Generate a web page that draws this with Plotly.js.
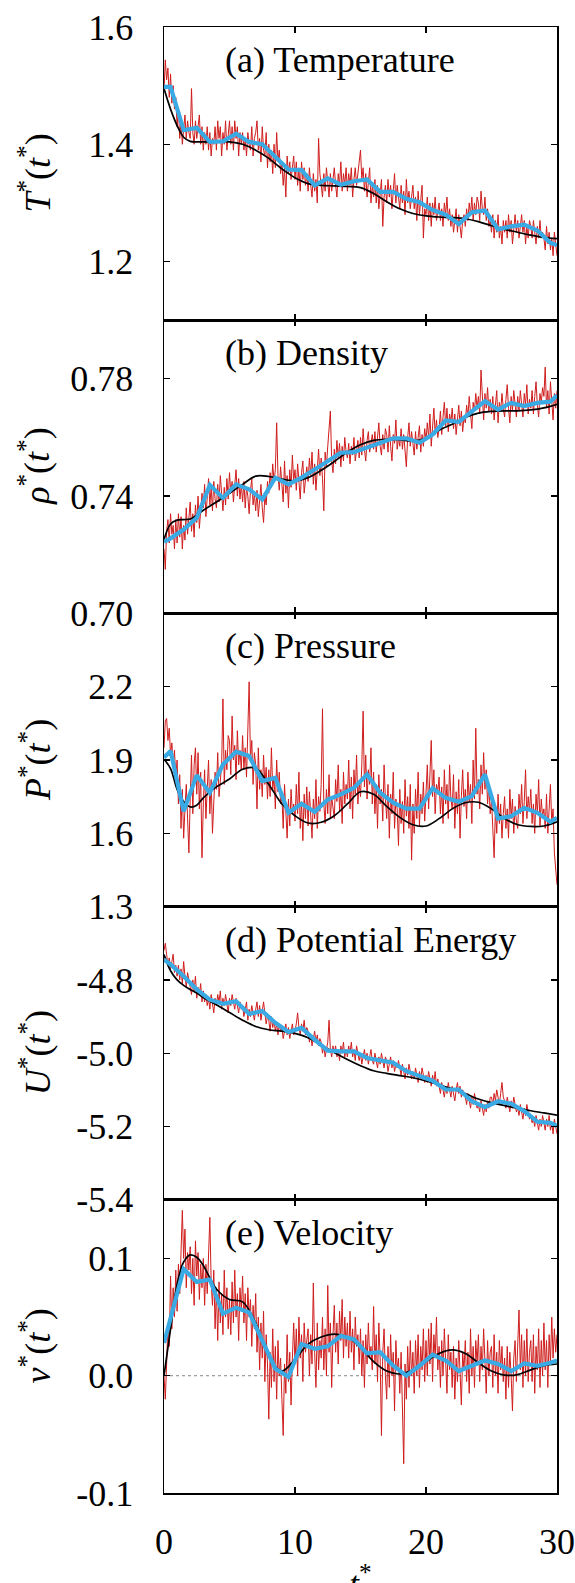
<!DOCTYPE html>
<html>
<head>
<meta charset="utf-8">
<script src="https://cdn.plot.ly/plotly-3.0.1.min.js"></script>
<style>html,body{margin:0;padding:0;background:#fff;}</style>
</head>
<body>
<div id="chart" style="width:575px;height:1583px;"></div>
<script>
// ---------- data ----------
const panelLabels = ['(a) Temperature', '(b) Density', '(c) Pressure', '(d) Potential Energy', '(e) Velocity'];
const yTitles = ['<i>T</i><sup>*</sup>(<i>t</i><sup>*</sup>)', '<i>ρ</i><sup>*</sup>(<i>t</i><sup>*</sup>)', '<i>P</i><sup>*</sup>(<i>t</i><sup>*</sup>)', '<i>U</i><sup>*</sup>(<i>t</i><sup>*</sup>)', '<i>v</i><sup>*</sup>(<i>t</i><sup>*</sup>)'];
const xTitle = '<i>t</i><sup>*</sup>';

const xTickVals = [0, 10, 20, 30];
const xTickText = ['0', '10', '20', '30'];

const yRanges = [[1.1, 1.6], [0.70, 0.80], [1.3, 2.5], [-5.4, -4.6], [-0.1, 0.15]];
const yTickVals = [[1.2, 1.4, 1.6], [0.70, 0.74, 0.78], [1.3, 1.6, 1.9, 2.2], [-5.4, -5.2, -5.0, -4.8], [-0.1, 0.0, 0.1]];
const yTickText = [['1.2', '1.4', '1.6'], ['0.70', '0.74', '0.78'], ['1.3', '1.6', '1.9', '2.2'], ['-5.4', '-5.2', '-5.0', '-4.8'], ['-0.1', '0.0', '0.1']];

// averaged (blue) series
const tBlue = [0, 0.5, 1.5, 2.5, 3.5, 4.5, 5.5, 6.5, 7.5, 8.5, 9.5, 10.5, 11.5, 12.5, 13.5, 14.5, 15.5, 16.5, 17.5, 18.5, 19.5, 20.5, 21.5, 22.5, 23.5, 24.5, 25.5, 26.5, 27.5, 28.5, 29.5, 30];
const blueT = [1.498, 1.498, 1.424, 1.428, 1.404, 1.405, 1.418, 1.404, 1.400, 1.378, 1.357, 1.356, 1.330, 1.342, 1.331, 1.337, 1.340, 1.319, 1.319, 1.307, 1.301, 1.288, 1.280, 1.264, 1.284, 1.287, 1.255, 1.260, 1.263, 1.253, 1.232, 1.228];
const blueRho = [0.7244, 0.7256, 0.7286, 0.7326, 0.7438, 0.7394, 0.7440, 0.7423, 0.7389, 0.7463, 0.7440, 0.7463, 0.7491, 0.7519, 0.7548, 0.7550, 0.7565, 0.7582, 0.7597, 0.7597, 0.7582, 0.7610, 0.7658, 0.7653, 0.7690, 0.7724, 0.7695, 0.7718, 0.7707, 0.7718, 0.7722, 0.7744];
const blueP = [1.910, 1.937, 1.690, 1.838, 1.766, 1.882, 1.934, 1.916, 1.814, 1.827, 1.684, 1.721, 1.688, 1.738, 1.759, 1.786, 1.841, 1.766, 1.725, 1.701, 1.701, 1.784, 1.745, 1.729, 1.752, 1.841, 1.660, 1.670, 1.704, 1.684, 1.647, 1.663];
const blueU = [-4.745, -4.758, -4.790, -4.826, -4.854, -4.865, -4.858, -4.893, -4.885, -4.917, -4.942, -4.931, -4.963, -4.993, -4.995, -4.995, -5.013, -5.020, -5.026, -5.049, -5.063, -5.075, -5.099, -5.099, -5.131, -5.147, -5.131, -5.138, -5.158, -5.187, -5.190, -5.199];
const blueV = [0.028, 0.050, 0.091, 0.080, 0.082, 0.053, 0.058, 0.054, 0.030, 0.006, -0.001, 0.027, 0.023, 0.025, 0.034, 0.031, 0.019, 0.020, 0.0085, 0.000, 0.0085, 0.018, 0.013, 0.004, 0.0085, 0.013, 0.010, 0.004, 0.0105, 0.0085, 0.011, 0.013];

// smooth (black) series
const tBlack = [0, 0.5, 1, 1.5, 2, 2.5, 3, 4, 5, 6, 7, 8, 9, 10, 11, 12, 13, 14, 15, 16, 17, 18, 19, 20, 21, 22, 23, 24, 25, 26, 27, 28, 29, 30];
const blackT = [1.495, 1.46, 1.432, 1.412, 1.405, 1.404, 1.404, 1.404, 1.404, 1.400, 1.390, 1.376, 1.358, 1.343, 1.333, 1.330, 1.329, 1.328, 1.326, 1.316, 1.302, 1.290, 1.282, 1.278, 1.276, 1.275, 1.273, 1.268, 1.261, 1.255, 1.250, 1.245, 1.241, 1.239];
const blackRho = [0.7252, 0.7305, 0.7318, 0.7320, 0.7322, 0.7335, 0.7352, 0.738, 0.741, 0.744, 0.7468, 0.7467, 0.7458, 0.7452, 0.7463, 0.7488, 0.7518, 0.7550, 0.7575, 0.7590, 0.7594, 0.7592, 0.7588, 0.7598, 0.7625, 0.7645, 0.7668, 0.7683, 0.7689, 0.7691, 0.7691, 0.7694, 0.7701, 0.7713];
const blackP = [1.903, 1.865, 1.78, 1.73, 1.708, 1.715, 1.745, 1.79, 1.822, 1.862, 1.866, 1.80, 1.72, 1.672, 1.642, 1.645, 1.672, 1.720, 1.770, 1.760, 1.710, 1.665, 1.635, 1.630, 1.660, 1.700, 1.725, 1.727, 1.700, 1.660, 1.635, 1.628, 1.630, 1.647];
const blackU = [-4.731, -4.775, -4.800, -4.815, -4.826, -4.836, -4.848, -4.868, -4.889, -4.910, -4.927, -4.936, -4.940, -4.946, -4.958, -4.978, -4.998, -5.017, -5.034, -5.048, -5.055, -5.061, -5.067, -5.076, -5.086, -5.097, -5.110, -5.125, -5.135, -5.143, -5.150, -5.157, -5.163, -5.169];
const blackV = [0, 0.040, 0.078, 0.097, 0.103, 0.101, 0.094, 0.074, 0.065, 0.063, 0.045, 0.016, 0.004, 0.014, 0.027, 0.033, 0.0355, 0.033, 0.024, 0.012, 0.004, 0.0015, 0.005, 0.012, 0.019, 0.022, 0.019, 0.011, 0.004, 0.0005, 0.001, 0.005, 0.0085, 0.010];

// raw (red) series, sampled every 0.1 time units from 0 to 30
const redStep = 0.1;
const redT = [
1.49,1.544,1.51,1.53,1.48,1.52,1.47,1.50,1.46,1.48,
1.43,1.46,1.41,1.44,1.40,1.42,1.45,1.41,1.44,1.42,
1.41,1.495,1.42,1.40,1.44,1.41,1.43,1.45,1.40,1.43,
1.39,1.42,1.40,1.43,1.39,1.42,1.38,1.41,1.40,1.43,
1.39,1.44,1.41,1.43,1.38,1.42,1.40,1.44,1.39,1.42,
1.44,1.40,1.43,1.39,1.44,1.41,1.43,1.38,1.42,1.40,
1.42,1.39,1.41,1.38,1.42,1.40,1.39,1.43,1.38,1.41,
1.42,1.44,1.39,1.41,1.37,1.43,1.39,1.38,1.42,1.36,
1.40,1.37,1.39,1.35,1.40,1.36,1.42,1.37,1.39,1.35,
1.37,1.33,1.36,1.31,1.38,1.35,1.37,1.34,1.36,1.38,
1.34,1.37,1.33,1.36,1.32,1.37,1.34,1.36,1.33,1.35,
1.32,1.36,1.33,1.31,1.35,1.32,1.34,1.30,1.41,1.35,
1.33,1.31,1.35,1.32,1.36,1.33,1.31,1.35,1.32,1.34,
1.36,1.33,1.31,1.35,1.33,1.37,1.32,1.35,1.33,1.36,
1.32,1.35,1.33,1.36,1.31,1.34,1.36,1.33,1.35,1.37,
1.39,1.34,1.36,1.32,1.35,1.31,1.34,1.36,1.30,1.33,
1.31,1.34,1.30,1.33,1.29,1.32,1.34,1.26,1.31,1.33,
1.30,1.34,1.31,1.33,1.29,1.32,1.35,1.30,1.33,1.31,
1.29,1.33,1.30,1.32,1.28,1.34,1.30,1.32,1.29,1.31,
1.33,1.29,1.31,1.27,1.32,1.28,1.30,1.33,1.24,1.29,
1.28,1.31,1.27,1.30,1.26,1.30,1.28,1.31,1.27,1.29,
1.30,1.27,1.29,1.26,1.30,1.28,1.31,1.27,1.29,1.26,
1.28,1.25,1.27,1.29,1.25,1.28,1.26,1.24,1.27,1.28,
1.26,1.29,1.27,1.30,1.28,1.31,1.27,1.30,1.28,1.31,
1.30,1.27,1.32,1.29,1.28,1.31,1.27,1.29,1.26,1.27,
1.25,1.28,1.24,1.27,1.25,1.28,1.24,1.26,1.23,1.27,
1.25,1.27,1.24,1.28,1.25,1.27,1.23,1.26,1.28,1.25,
1.27,1.24,1.26,1.28,1.25,1.27,1.23,1.26,1.24,1.27,
1.26,1.24,1.27,1.25,1.23,1.26,1.24,1.27,1.24,1.25,
1.24,1.22,1.26,1.23,1.25,1.22,1.24,1.21,1.25,1.23,
1.21];
const redRho = [
0.722,0.715,0.728,0.732,0.724,0.734,0.727,0.730,0.722,0.732,
0.724,0.734,0.726,0.733,0.722,0.730,0.725,0.736,0.727,0.732,
0.738,0.728,0.734,0.726,0.737,0.731,0.740,0.729,0.735,0.741,
0.736,0.744,0.733,0.741,0.746,0.737,0.743,0.735,0.745,0.739,
0.736,0.744,0.738,0.747,0.740,0.735,0.743,0.737,0.746,0.739,
0.748,0.741,0.745,0.738,0.744,0.749,0.740,0.746,0.739,0.744,
0.738,0.745,0.736,0.743,0.740,0.734,0.742,0.746,0.737,0.741,
0.735,0.742,0.733,0.739,0.744,0.736,0.731,0.740,0.737,0.745,
0.741,0.748,0.743,0.751,0.745,0.749,0.765,0.747,0.742,0.750,
0.744,0.738,0.752,0.741,0.747,0.736,0.749,0.743,0.754,0.745,
0.749,0.742,0.751,0.745,0.739,0.748,0.752,0.741,0.746,0.750,
0.745,0.753,0.747,0.755,0.744,0.751,0.742,0.750,0.756,0.747,
0.753,0.746,0.735,0.755,0.750,0.757,0.762,0.769,0.752,0.748,
0.756,0.751,0.759,0.753,0.758,0.750,0.757,0.752,0.760,0.755,
0.753,0.758,0.751,0.757,0.754,0.760,0.752,0.756,0.759,0.753,
0.760,0.754,0.763,0.756,0.752,0.759,0.762,0.755,0.758,0.761,
0.756,0.762,0.755,0.760,0.765,0.757,0.754,0.761,0.756,0.763,
0.761,0.755,0.764,0.757,0.752,0.761,0.758,0.766,0.756,0.760,
0.757,0.763,0.756,0.761,0.754,0.750,0.760,0.765,0.757,0.762,
0.758,0.754,0.762,0.756,0.760,0.764,0.755,0.761,0.757,0.763,
0.759,0.765,0.760,0.768,0.757,0.763,0.770,0.761,0.766,0.760,
0.763,0.769,0.761,0.767,0.772,0.764,0.770,0.762,0.768,0.765,
0.770,0.763,0.768,0.761,0.766,0.771,0.764,0.769,0.762,0.767,
0.765,0.771,0.767,0.774,0.768,0.763,0.772,0.769,0.775,0.770,
0.774,0.768,0.783,0.772,0.766,0.775,0.770,0.777,0.769,0.773,
0.768,0.774,0.766,0.771,0.776,0.765,0.772,0.769,0.775,0.770,
0.767,0.773,0.778,0.770,0.765,0.774,0.769,0.776,0.771,0.767,
0.774,0.769,0.776,0.770,0.767,0.775,0.771,0.778,0.768,0.773,
0.770,0.776,0.768,0.774,0.779,0.771,0.767,0.775,0.772,0.777,
0.774,0.784,0.770,0.776,0.768,0.779,0.773,0.766,0.775,0.770,
0.776];
const redP = [
1.95,2.06,2.07,1.98,2.03,1.92,1.97,1.88,1.94,1.83,
1.90,1.72,1.84,1.62,1.78,1.58,1.70,1.80,1.66,1.52,
1.74,1.92,1.68,1.88,1.95,1.76,1.93,1.70,1.85,1.50,
1.72,1.86,1.66,1.79,1.90,1.68,1.82,1.60,1.77,1.85,
1.78,1.93,1.75,1.82,1.88,2.15,1.80,1.94,1.86,2.00,
1.98,1.84,2.08,1.90,1.96,1.82,2.02,1.88,1.94,1.86,
2.00,1.86,1.95,1.83,2.06,2.22,1.90,1.98,1.80,1.93,
1.88,1.70,1.95,1.78,1.86,1.75,1.92,1.80,1.87,1.74,
1.86,1.75,1.95,1.78,1.83,1.70,1.90,1.77,1.85,1.72,
1.75,1.62,1.80,1.66,1.58,1.74,1.63,1.78,1.68,1.72,
1.65,1.80,1.68,1.85,1.62,1.73,1.57,1.76,1.66,1.79,
1.63,1.77,1.68,1.58,1.74,1.66,1.82,1.62,1.75,1.69,
1.80,2.11,1.72,1.64,1.78,1.68,1.84,1.66,1.75,1.70,
1.66,1.82,1.73,1.88,1.69,1.78,1.64,1.85,1.72,1.80,
1.74,1.90,1.70,1.83,1.66,1.86,1.76,1.92,1.72,1.81,
1.75,1.88,2.10,1.79,1.92,1.74,1.86,1.80,1.95,1.72,
1.85,1.68,1.80,1.62,1.84,1.72,1.78,1.65,1.88,1.74,
1.66,1.80,1.58,1.76,1.68,1.85,1.62,1.74,1.70,1.55,
1.78,1.64,1.73,1.60,1.82,1.67,1.75,1.62,1.80,1.49,
1.72,1.60,1.78,1.66,1.85,1.63,1.76,1.68,1.81,1.65,
1.74,1.88,1.70,1.82,1.98,1.75,1.86,1.68,1.80,1.77,
1.83,1.68,1.79,1.64,1.86,1.72,1.80,1.66,1.88,1.74,
1.70,1.84,1.62,1.77,1.68,1.82,1.58,1.75,1.86,1.71,
1.78,1.66,1.85,1.73,1.80,1.64,1.90,1.74,2.03,1.76,
1.82,1.70,1.88,1.76,1.93,1.78,1.86,1.72,1.80,1.68,
1.74,1.62,1.50,1.70,1.60,1.76,1.64,1.72,1.58,1.68,
1.75,1.62,1.70,1.58,1.78,1.66,1.74,1.60,1.71,1.65,
1.62,1.76,1.68,1.80,1.64,1.73,1.86,1.66,1.75,1.69,
1.78,1.64,1.72,1.60,1.76,1.68,1.82,1.63,1.74,1.67,
1.70,1.62,1.76,1.60,1.72,1.80,1.64,1.70,1.52,1.44,
1.39];
const redU = [
-4.72,-4.70,-4.73,-4.76,-4.74,-4.77,-4.75,-4.73,-4.78,-4.76,
-4.79,-4.76,-4.80,-4.77,-4.81,-4.75,-4.79,-4.82,-4.78,-4.80,
-4.81,-4.84,-4.80,-4.83,-4.79,-4.85,-4.82,-4.84,-4.81,-4.86,
-4.83,-4.86,-4.84,-4.87,-4.85,-4.88,-4.84,-4.86,-4.89,-4.85,
-4.87,-4.84,-4.86,-4.83,-4.88,-4.85,-4.87,-4.84,-4.86,-4.89,
-4.85,-4.87,-4.84,-4.86,-4.88,-4.85,-4.87,-4.89,-4.86,-4.88,
-4.87,-4.90,-4.88,-4.86,-4.91,-4.88,-4.90,-4.87,-4.89,-4.91,
-4.88,-4.86,-4.90,-4.87,-4.91,-4.88,-4.86,-4.89,-4.92,-4.90,
-4.91,-4.94,-4.90,-4.93,-4.91,-4.94,-4.92,-4.95,-4.92,-4.94,
-4.93,-4.96,-4.94,-4.92,-4.95,-4.93,-4.96,-4.94,-4.92,-4.95,
-4.94,-4.92,-4.89,-4.93,-4.95,-4.92,-4.94,-4.91,-4.95,-4.93,
-4.94,-4.97,-4.95,-4.98,-4.96,-4.94,-4.97,-4.95,-4.98,-4.96,
-4.97,-5.00,-4.98,-5.01,-4.99,-4.97,-4.91,-4.99,-5.01,-4.98,
-5.00,-4.98,-5.01,-4.99,-5.02,-4.98,-5.00,-4.97,-5.01,-4.99,
-5.01,-4.98,-5.00,-4.97,-5.01,-4.99,-5.02,-4.98,-5.00,-5.02,
-5.00,-5.03,-5.01,-4.99,-5.02,-5.00,-5.03,-5.01,-4.99,-5.02,
-5.03,-5.00,-5.02,-5.04,-5.01,-5.03,-5.00,-5.02,-5.04,-5.01,
-5.02,-5.05,-5.03,-5.01,-5.04,-5.02,-5.05,-5.03,-5.04,-5.02,
-5.04,-5.06,-5.03,-5.05,-5.07,-5.04,-5.06,-5.03,-5.05,-5.07,
-5.05,-5.07,-5.04,-5.06,-5.08,-5.05,-5.07,-5.04,-5.06,-5.08,
-5.06,-5.08,-5.05,-5.07,-5.09,-5.06,-5.08,-5.05,-5.09,-5.07,
-5.09,-5.11,-5.08,-5.10,-5.12,-5.09,-5.11,-5.08,-5.10,-5.12,
-5.09,-5.11,-5.13,-5.10,-5.08,-5.11,-5.09,-5.12,-5.10,-5.11,
-5.12,-5.14,-5.11,-5.13,-5.15,-5.12,-5.14,-5.11,-5.13,-5.15,
-5.14,-5.16,-5.13,-5.15,-5.17,-5.14,-5.16,-5.13,-5.15,-5.12,
-5.12,-5.14,-5.11,-5.13,-5.10,-5.12,-5.14,-5.11,-5.08,-5.12,
-5.13,-5.15,-5.12,-5.14,-5.16,-5.13,-5.15,-5.12,-5.14,-5.16,
-5.15,-5.17,-5.14,-5.16,-5.18,-5.15,-5.17,-5.14,-5.16,-5.18,
-5.17,-5.19,-5.18,-5.20,-5.17,-5.19,-5.21,-5.18,-5.20,-5.17,
-5.19,-5.21,-5.18,-5.20,-5.17,-5.21,-5.19,-5.22,-5.18,-5.20,
-5.22];
const redV = [
0.000,-0.020,0.010,0.045,0.025,0.085,0.040,0.075,0.050,0.090,
0.055,0.095,0.070,0.110,0.141,0.100,0.125,0.075,0.105,0.090,
0.110,0.070,0.100,0.060,0.115,0.085,0.105,0.065,0.095,0.075,
0.100,0.060,0.095,0.070,0.110,0.135,0.080,0.060,0.090,0.040,
0.075,0.030,0.080,0.045,0.070,0.035,0.090,0.050,0.075,0.040,
0.065,0.035,0.080,0.045,0.090,0.050,0.070,0.030,0.075,0.055,
0.085,0.045,0.070,0.030,0.075,0.050,0.065,0.025,0.060,0.040,
0.070,0.020,0.050,0.005,0.045,0.015,0.055,-0.005,0.035,0.010,
-0.037,0.020,-0.010,0.040,-0.005,0.025,-0.020,0.030,0.000,0.015,
-0.020,-0.051,0.010,-0.015,0.035,-0.005,0.020,-0.025,0.015,0.045,
0.010,0.040,0.000,0.050,0.015,0.035,-0.005,0.045,0.020,0.030,
0.040,0.000,0.035,0.010,0.079,0.020,-0.010,0.045,0.005,0.030,
0.015,0.050,0.005,0.040,0.000,0.077,0.020,0.045,-0.010,0.035,
0.060,0.020,0.045,0.010,0.055,0.030,0.065,0.015,0.050,0.025,
0.045,0.015,0.055,0.020,0.040,0.005,0.050,0.025,0.035,0.010,
0.040,0.000,0.030,-0.010,0.035,0.010,0.045,0.015,0.025,0.005,
0.059,0.010,0.035,-0.005,0.045,0.015,-0.051,0.020,0.040,0.000,
-0.020,0.025,-0.010,0.035,0.000,0.020,-0.030,0.030,0.005,0.015,
-0.015,0.020,-0.035,-0.075,0.010,-0.020,0.025,-0.010,0.030,0.000,
0.020,-0.015,0.030,0.000,0.035,-0.010,0.025,0.005,0.040,-0.005,
0.030,0.000,0.040,0.010,0.045,-0.005,0.035,0.015,0.050,0.005,
0.025,-0.010,0.030,0.000,0.040,0.010,-0.015,0.035,0.005,0.020,
-0.010,0.025,-0.020,0.015,-0.005,0.030,0.000,-0.025,0.020,0.005,
0.030,-0.005,0.020,-0.015,0.040,0.000,0.025,-0.010,0.030,0.010,
0.035,-0.005,0.025,0.005,0.040,0.010,-0.015,0.030,0.000,0.020,
0.025,-0.010,0.035,0.000,0.020,-0.015,0.030,0.005,0.025,-0.005,
0.015,-0.020,0.025,-0.010,0.020,0.000,-0.030,0.015,0.030,-0.005,
0.025,0.056,0.005,0.035,-0.010,0.030,0.000,0.040,-0.005,0.020,
0.030,-0.005,0.035,-0.015,0.025,0.005,0.040,-0.010,0.030,0.000,
0.045,0.005,0.030,-0.010,0.035,0.010,0.050,0.015,0.040,0.020,
0.035];

// reference zero line in panel (e)
const zeroLineT = [0, 30];
const zeroLineV = [0, 0];

// ---------- build ----------
const redSets = [redT, redRho, redP, redU, redV];
const blackSets = [blackT, blackRho, blackP, blackU, blackV];
const blueSets = [blueT, blueRho, blueP, blueU, blueV];
const redTimes = redT.map((_, i) => +(i * redStep).toFixed(1));

const FONT = 'Liberation Serif';
const RED = '#cf1d1d', BLUE = '#3aaae4';
const N = 5;
const traces = [];
const layout = {
  width: 575, height: 1583,
  margin: {l: 164, r: 18, t: 27, b: 90},
  paper_bgcolor: '#fff', plot_bgcolor: '#fff',
  showlegend: false,
  font: {family: FONT, size: 36, color: '#000'},
  annotations: []
};

for (let i = 0; i < N; i++) {
  const sfx = i === 0 ? '' : String(i + 1);
  const xa = 'x' + sfx, ya = 'y' + sfx;
  if (i === 4) {
    traces.push({x: zeroLineT, y: zeroLineV, xaxis: xa, yaxis: ya, type: 'scatter', mode: 'lines',
                 line: {color: '#666', width: 0.8, dash: '3px,3px'}, hoverinfo: 'skip'});
  }
  traces.push({x: redTimes, y: redSets[i], xaxis: xa, yaxis: ya, type: 'scatter', mode: 'lines',
               line: {color: RED, width: 1}, hoverinfo: 'skip'});
  traces.push({x: tBlack, y: blackSets[i], xaxis: xa, yaxis: ya, type: 'scatter', mode: 'lines',
               line: {color: '#000', width: 1.7, shape: 'spline', smoothing: 1}, hoverinfo: 'skip'});
  traces.push({x: tBlue, y: blueSets[i], xaxis: xa, yaxis: ya, type: 'scatter', mode: 'lines',
               line: {color: BLUE, width: 4.2}, hoverinfo: 'skip'});
  const top = 1 - i / N, bot = 1 - (i + 1) / N;
  layout['xaxis' + sfx] = {
    domain: [0, 1], anchor: ya, range: [0, 30],
    tickmode: 'array', tickvals: xTickVals, ticktext: xTickText,
    showticklabels: i === N - 1, ticks: 'inside', ticklen: 6, tickwidth: 1.3, tickcolor: '#000',
    showline: true, linecolor: '#000', linewidth: 1.5, mirror: 'ticks',
    showgrid: false, zeroline: false, ticklabelstandoff: 16,
    tickfont: {family: FONT, size: 36, color: '#000'}
  };
  layout['yaxis' + sfx] = {
    domain: [bot, top], anchor: xa, range: yRanges[i],
    tickmode: 'array', tickvals: yTickVals[i], ticktext: yTickText[i],
    ticks: 'inside', ticklen: 6, tickwidth: 1.3, tickcolor: '#000',
    showline: true, linecolor: '#000', linewidth: 1.5, mirror: 'ticks',
    showgrid: false, zeroline: false, ticklabelstandoff: 22,
    tickfont: {family: FONT, size: 36, color: '#000'}
  };
  layout.annotations.push({
    text: panelLabels[i], xref: xa + ' domain', yref: ya + ' domain',
    x: 0.15, y: 1, xanchor: 'left', yanchor: 'middle', yshift: -33,
    showarrow: false, font: {family: FONT, size: 36, color: '#000'}
  });
  layout.annotations.push({
    text: yTitles[i], xref: 'paper', yref: ya + ' domain',
    x: 0, y: 0.5, xanchor: 'center', yanchor: 'middle', xshift: -129,
    textangle: -90, showarrow: false, font: {family: FONT, size: 36, color: '#000'}
  });
}
layout.annotations.push({
  text: xTitle, xref: 'paper', yref: 'paper', x: 0.5, y: 0,
  xanchor: 'center', yanchor: 'top', yshift: -64,
  showarrow: false, font: {family: FONT, size: 36, color: '#000'}
});

Plotly.newPlot('chart', traces, layout, {staticPlot: true, displayModeBar: false});
</script>
</body>
</html>
